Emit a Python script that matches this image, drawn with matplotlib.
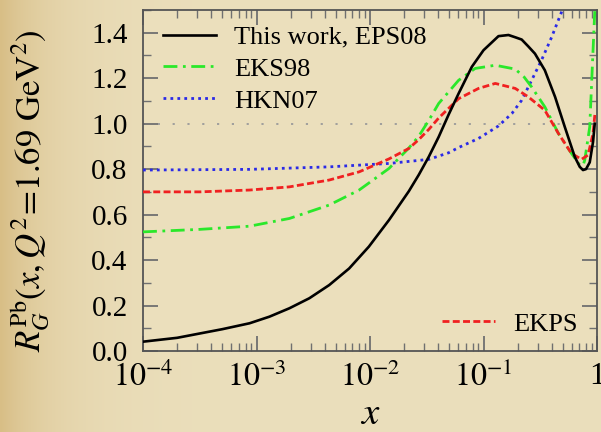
import numpy as np
import matplotlib
matplotlib.use("Agg")
import matplotlib.pyplot as plt
from matplotlib.ticker import MultipleLocator, LogLocator, FixedLocator, FixedFormatter, NullFormatter

plt.rcParams['font.family'] = ['Liberation Serif', 'DejaVu Serif']
plt.rcParams['mathtext.fontset'] = 'stix'

# values, x then R_G
x_eps08 = [1e-4, 2e-4, 3.16e-4, 5e-4, 8.69e-4, 1.3e-3, 1.95e-3, 2.92e-3, 4.37e-3, 6.55e-3,
           9.77e-3, 1.47e-2, 2.2e-2, 2.69e-2, 3.3e-2, 4.03e-2, 4.93e-2, 6.04e-2, 7.89e-2,
           0.1, 0.1355, 0.166, 0.1905, 0.217, 0.248, 0.284, 0.347, 0.427, 0.52, 0.637,
           0.705, 0.753, 0.80, 0.863, 0.923, 0.955]
y_eps08 = [0.041, 0.058, 0.077, 0.096, 0.122, 0.151, 0.188, 0.232, 0.29, 0.363,
           0.459, 0.576, 0.703, 0.775, 0.855, 0.942, 1.04, 1.133, 1.25,
           1.323, 1.385, 1.39, 1.38, 1.37, 1.34, 1.308, 1.235, 1.118, 0.986, 0.854,
           0.81, 0.796, 0.80, 0.83, 0.92, 1.0]

x_eks98 = [1e-4, 3.16e-4, 8.69e-4, 1.95e-3, 4.37e-3, 8.02e-3, 1.47e-2, 2.2e-2, 2.69e-2,
           3.3e-2, 4.03e-2, 6.04e-2, 8.45e-2, 0.127, 0.1905, 0.228, 0.265, 0.347, 0.457,
           0.596, 0.705, 0.753, 0.78, 0.863, 0.923, 0.955, 0.97]
y_eks98 = [0.524, 0.535, 0.549, 0.583, 0.642, 0.708, 0.803, 0.893, 0.945,
           1.015, 1.089, 1.191, 1.243, 1.257, 1.24, 1.205, 1.162, 1.074, 0.957,
           0.869, 0.818, 0.815, 0.84, 0.986, 1.323, 1.49, 1.6]

x_hkn07 = [1e-4, 8.69e-4, 4.37e-3, 1.47e-2, 3.3e-2, 4.93e-2, 6.04e-2, 9.04e-2, 0.1355,
           0.178, 0.217, 0.265, 0.325, 0.398, 0.486, 0.52]
y_hkn07 = [0.796, 0.799, 0.81, 0.825, 0.843, 0.872, 0.895, 0.935, 0.99,
           1.045, 1.103, 1.19, 1.28, 1.38, 1.49, 1.53]

x_ekps = [1e-4, 3.16e-4, 8.69e-4, 1.95e-3, 4.37e-3, 8.02e-3, 1.47e-2, 2.2e-2, 2.69e-2,
          3.3e-2, 4.03e-2, 6.04e-2, 9.04e-2, 0.127, 0.1905, 0.248, 0.347, 0.457, 0.596,
          0.73, 0.834, 0.923, 0.96]
y_ekps = [0.70, 0.70, 0.708, 0.722, 0.752, 0.788, 0.845, 0.891, 0.93,
          0.975, 1.025, 1.11, 1.155, 1.177, 1.155, 1.118, 1.059, 0.957, 0.869,
          0.843, 0.862, 0.957, 1.045]

xticks = [1e-4, 1e-3, 1e-2, 1e-1, 1]
xticklabels = ['$10^{-4}$', '$10^{-3}$', '$10^{-2}$', '$10^{-1}$', '1']

bg = '#ebdfbc'
fig = plt.figure(figsize=(6.01, 4.32), dpi=100, facecolor=bg)

# beige background, darker towards the left edge
bgax = fig.add_axes([0, 0, 1, 1], zorder=-10)
bgax.axis('off')
left_col = np.array(matplotlib.colors.to_rgb('#d8be86'))
main_col = np.array(matplotlib.colors.to_rgb(bg))
t = np.exp(-np.linspace(0, 601, 601) / 55.0)[None, :, None]
grad = main_col + (left_col - main_col) * t
bgax.imshow(np.repeat(grad, 2, axis=0), aspect='auto', extent=[0, 1, 0, 1])

ax = fig.add_axes([143 / 601, 81 / 432, 454 / 601, 341 / 432])
ax.set_facecolor(bg)
ax.set_xscale('log')
ax.set_xlim(1e-4, 1)
ax.set_ylim(0, 1.5)

ax.axhline(1.0, color='#9a9a9a', lw=1.3, dashes=(1.2, 7), zorder=1)

ax.plot(x_eps08, y_eps08, color='black', lw=1.9, label='This work, EPS08', zorder=5)
ax.plot(x_eks98, y_eks98, color='#2ae82a', lw=2.0, dashes=(5, 2, 1, 2), label='EKS98', zorder=4)
ax.plot(x_hkn07, y_hkn07, color='#2a2ae6', lw=2.0, dashes=(1, 1.5), label='HKN07', zorder=3)
l_ekps, = ax.plot(x_ekps, y_ekps, color='#f02020', lw=2.0, dashes=(2.5, 1.2), zorder=4)

ax.xaxis.set_major_locator(FixedLocator(xticks))
ax.xaxis.set_major_formatter(FixedFormatter(xticklabels))
ax.xaxis.set_minor_locator(LogLocator(base=10, subs=np.arange(2, 10)))
ax.xaxis.set_minor_formatter(NullFormatter())
ax.yaxis.set_major_locator(MultipleLocator(0.2))
ax.yaxis.set_minor_locator(MultipleLocator(0.1))
ax.yaxis.set_major_formatter(matplotlib.ticker.FormatStrFormatter('%.1f'))

ax.tick_params(which='both', direction='in', top=True, right=True, color='#707070')
ax.tick_params(which='major', length=10.5, width=1.3)
ax.tick_params(which='minor', length=6, width=1.0)
ax.tick_params(axis='y', labelsize=21, pad=11)
ax.tick_params(axis='x', labelsize=23, pad=8)
for s in ax.spines.values():
    s.set_color('#555555')
    s.set_linewidth(1.3)

leg1 = ax.legend(loc='upper left', bbox_to_anchor=(0.044, 0.955), frameon=False,
                 fontsize=19, handlelength=2.0, handletextpad=0.7, labelspacing=0.32,
                 borderaxespad=0, borderpad=0)
ax.add_artist(leg1)
ax.legend([l_ekps], ['EKPS'], loc='lower left', bbox_to_anchor=(0.658, 0.045), frameon=False,
          fontsize=19, handlelength=2.0, handletextpad=0.7, borderaxespad=0, borderpad=0)

fig.text(0.05, 0.56, r'$R_G^{\rm Pb}(x,Q^2\!=\!1.69\ {\rm GeV}^2)$', rotation=90,
         ha='center', va='center', fontsize=25)
fig.text(370 / 601, 0.04, '$x$', ha='center', va='center', fontsize=28)

fig.savefig('out.png', dpi=100, facecolor=bg)
